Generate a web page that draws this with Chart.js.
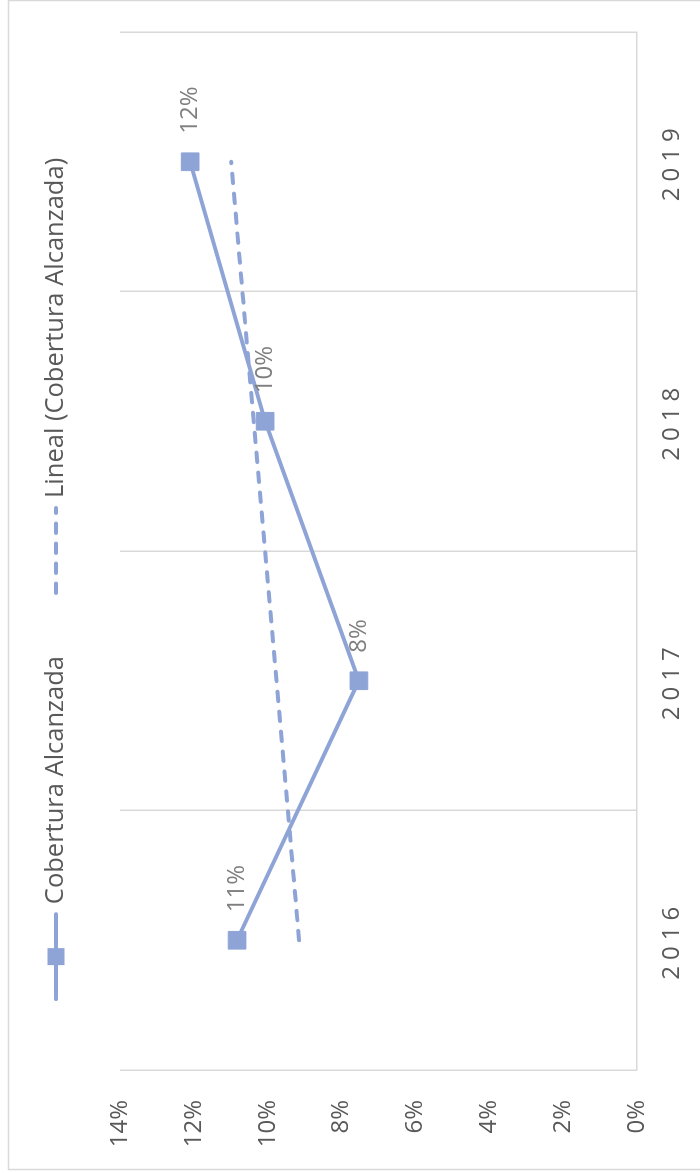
<!DOCTYPE html>
<html>
<head>
<meta charset="utf-8">
<script src="https://cdn.jsdelivr.net/npm/chart.js@4.4.0/dist/chart.umd.min.js"></script>
<style>
html, body { margin: 0; padding: 0; background: #fff; overflow: hidden; width: 700px; height: 1173px; }
/* chart is drawn landscape, then turned a quarter left like the reference */
#wrap { position: absolute; left: 0; top: 0; width: 1173px; height: 700px;
        transform-origin: 0 0; transform: translateY(1173px) rotate(-90deg); }
</style>
</head>
<body>
<div id="wrap"><canvas id="chart" width="1173" height="700"></canvas></div>
<script>
const years = ["2016", "2017", "2018", "2019"];
const coverage = [10.83, 7.53, 10.07, 12.10];
const trend = [9.15, 9.76, 10.38, 10.99];       // linear trendline
const valueTicks = [0, 2, 4, 6, 8, 10, 12, 14];
const seriesName = "Cobertura Alcanzada";
const trendName = "Lineal (Cobertura Alcanzada)";

const BLUE = "#8fa4d6";
const GRID = "#d9d9d9";
const AXIS_TEXT = "#595959";
const LABEL_TEXT = "#7f7f7f";
const FONT = "'Open Sans', sans-serif";

const extras = {
  id: 'extras',
  beforeDraw(chart) {
    const ctx = chart.ctx;
    ctx.save();
    ctx.strokeStyle = GRID;
    ctx.lineWidth = 1.5;
    ctx.strokeRect(3.5, 8.5, chart.width - 4, chart.height);
    ctx.restore();
  },
  // year labels are drawn after the datasets (ticks.z = 1), spaced out
  afterDatasetsDraw(chart) {
    chart.ctx.letterSpacing = '6px';
  },
  afterDraw(chart) {
    const ctx = chart.ctx;
    ctx.letterSpacing = '0px';
    ctx.save();
    ctx.font = `24px ${FONT}`;
    ctx.textBaseline = 'middle';
    ctx.textAlign = 'left';

    // data labels, right of each point
    ctx.fillStyle = LABEL_TEXT;
    chart.getDatasetMeta(0).data.forEach((pt, i) => {
      ctx.fillText(Math.round(coverage[i]) + '%', pt.x + 28, pt.y);
    });

    // legend
    ctx.font = `25.5px ${FONT}`;
    const symW = 85, gap = 10, itemGap = 63, ly = 56;
    const w1 = ctx.measureText(seriesName).width;
    const w2 = ctx.measureText(trendName).width;
    const total = symW + gap + w1 + itemGap + symW + gap + w2;
    let x = chart.width / 2 + 8 - total / 2;

    ctx.strokeStyle = BLUE;
    ctx.fillStyle = BLUE;
    ctx.lineWidth = 4;
    ctx.lineCap = 'round';
    ctx.beginPath(); ctx.moveTo(x, ly); ctx.lineTo(x + symW, ly); ctx.stroke();
    ctx.fillRect(x + symW / 2 - 8.5, ly - 8.5, 17, 17);
    ctx.fillStyle = AXIS_TEXT;
    ctx.fillText(seriesName, x + symW + gap, ly);

    x += symW + gap + w1 + itemGap;
    ctx.lineWidth = 4;
    ctx.setLineDash([9.5, 10.5]);
    ctx.beginPath(); ctx.moveTo(x, ly); ctx.lineTo(x + symW, ly); ctx.stroke();
    ctx.setLineDash([]);
    ctx.fillText(trendName, x + symW + gap, ly);
    ctx.restore();
  }
};

new Chart(document.getElementById('chart'), {
  type: 'line',
  data: {
    labels: years,
    datasets: [
      {
        label: seriesName,
        data: coverage,
        borderColor: BLUE,
        backgroundColor: BLUE,
        borderWidth: 4,
        pointStyle: 'rect',
        pointRadius: 12.5,
        pointBorderWidth: 1,
        pointBackgroundColor: BLUE,
        pointBorderColor: BLUE,
        tension: 0
      },
      {
        label: trendName,
        data: trend,
        borderColor: BLUE,
        borderWidth: 4,
        borderDash: [9.5, 10.5],
        borderCapStyle: 'round',
        pointRadius: 0,
        tension: 0
      }
    ]
  },
  options: {
    responsive: false,
    animation: false,
    devicePixelRatio: 1,
    layout: { padding: { left: 0, right: 32, top: 120, bottom: 0 } },
    plugins: { legend: { display: false }, tooltip: { enabled: false } },
    scales: {
      x: {
        offset: true,
        grid: { offset: true, color: GRID, lineWidth: 1.5, drawTicks: false },
        border: { color: GRID, width: 1.5 },
        ticks: { color: AXIS_TEXT, font: { size: 24, family: FONT }, padding: 21, maxRotation: 0, z: 1 },
        afterFit(s) { s.height = 63; }
      },
      y: {
        min: 0,
        max: 14,
        grid: { display: false, drawTicks: false },
        border: { display: false },
        ticks: { color: AXIS_TEXT, font: { size: 24, family: FONT }, padding: 30, callback: v => v + '%' },
        afterBuildTicks(s) { s.ticks = valueTicks.map(v => ({ value: v })); },
        afterFit(s) { s.width = 103; }
      }
    }
  },
  plugins: [extras]
});
</script>
</body>
</html>
